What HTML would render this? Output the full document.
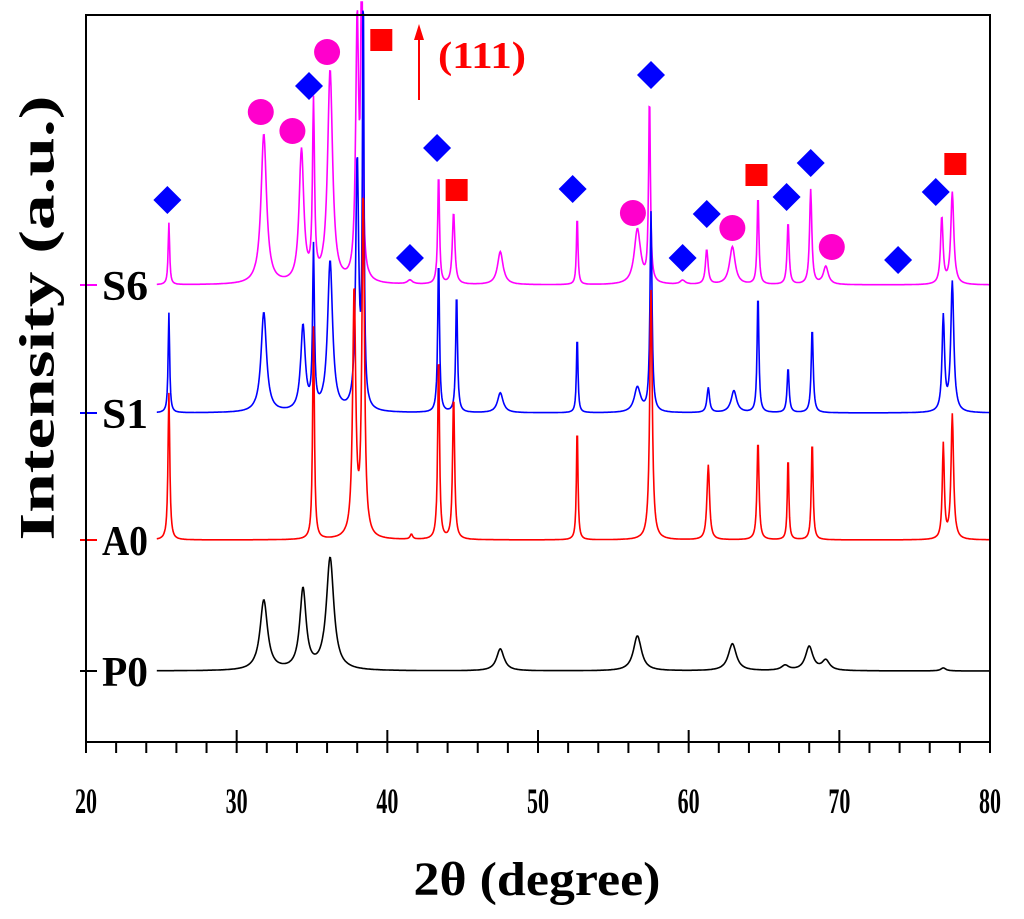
<!DOCTYPE html>
<html><head><meta charset="utf-8"><style>
html,body{margin:0;padding:0;background:#fff;}
svg{display:block;font-family:"Liberation Serif",serif;font-weight:bold;}
</style></head><body>
<svg id="chart" width="1024" height="919" viewBox="0 0 1024 919">
<rect x="0" y="0" width="1024" height="919" fill="#fff"/>
<g id="series"></g>
<g id="markers"></g>
<rect x="86" y="15" width="904" height="727" fill="none" stroke="#000" stroke-width="2"/>
<g id="axes"></g>
<text x="42" y="318" font-size="50" text-anchor="middle" textLength="445" lengthAdjust="spacingAndGlyphs" transform="rotate(-90 42 318)" dominant-baseline="middle">Intensity (a.u.)</text>
<text x="537" y="895" font-size="48" text-anchor="middle" textLength="247" lengthAdjust="spacingAndGlyphs">2θ (degree)</text>
<line x1="419" y1="100" x2="419" y2="30" stroke="#f00" stroke-width="2"/>
<polygon points="419,24 414,40 424,40" fill="#f00"/>
<text x="438" y="68" font-size="38" fill="#f00" textLength="88" lengthAdjust="spacingAndGlyphs">(111)</text>
</svg>
<script>
const xTicks=[20,30,40,50,60,70,80];
const seriesNames=["S6","S1","A0","P0"];
const seriesColors=["#ff00ff","#0000ff","#ff0000","#000000"];
const baselines=[285,413,540,671];
// peaks: position (deg), height (px units), hwhm (deg)
const s6Pos=[25.5,31.8,34.3,35.1,36.2,38.0,38.3,41.5,43.4,44.4,47.5,52.6,56.6,57.4,59.6,61.2,62.9,64.6,66.6,68.1,69.1,76.8,77.5];
const s6H=[62,150,132,175,212,260,420,4,112,72,33,70,55,187,4,35,38,90,63,95,18,67,92];
const s6W=[0.06,0.22,0.18,0.08,0.2,0.12,0.06,0.2,0.07,0.1,0.22,0.06,0.25,0.07,0.2,0.1,0.22,0.07,0.08,0.09,0.2,0.1,0.12];
const s1Pos=[25.5,31.8,34.4,35.1,36.2,38.0,38.4,43.4,44.6,47.5,52.6,56.6,57.5,61.3,63.0,64.6,66.6,68.2,76.9,77.5];
const s1H=[100,100,85,160,150,250,420,155,121,20,78,25,200,25,22,120,45,85,95,130];
const s1W=[0.06,0.22,0.18,0.07,0.2,0.12,0.06,0.07,0.07,0.22,0.06,0.25,0.08,0.1,0.22,0.07,0.08,0.08,0.1,0.12];
const a0Pos=[25.5,35.1,37.8,38.4,41.6,43.4,44.4,52.6,57.5,61.3,64.6,66.6,68.2,76.9,77.5];
const a0H=[147,213,248,345,5,188,145,115,250,75,100,85,100,95,125];
const a0W=[0.07,0.07,0.12,0.1,0.1,0.07,0.08,0.06,0.1,0.1,0.08,0.06,0.07,0.08,0.1];
const p0Pos=[31.8,34.4,36.2,47.5,56.6,62.9,66.4,68.0,69.1,76.9];
const p0H=[70,80,112,22,35,27,5,24,10,3];
const p0W=[0.3,0.25,0.3,0.3,0.32,0.32,0.3,0.3,0.3,0.2];
const markerX=[25.4,31.6,33.7,34.8,36.0,39.6,43.3,44.6,41.5,52.3,56.3,57.5,59.6,61.2,62.9,64.5,66.5,68.1,69.5,73.9,76.4,77.7];
const markerY=[200,112,131,86,52,40,148,190,258,189,213,75,258,214,228,175,197,163,247,260,192,164];
const markerType=["d","c","c","d","c","s","d","s","d","d","c","d","d","d","c","s","d","d","c","d","d","s"];
const NS="http://www.w3.org/2000/svg";
const X0=86,X1=990,Y0=742;
function xs(d){return X0+(d-20)*(X1-X0)/60;}
const sg=document.getElementById('series');
const peakSets=[[s6Pos,s6H,s6W],[s1Pos,s1H,s1W],[a0Pos,a0H,a0W],[p0Pos,p0H,p0W]];
peakSets.forEach((ps,i)=>{
  let pts=[];
  for(let d=24.7;d<=80.0001;d+=0.04){
    let v=0;
    for(let k=0;k<ps[0].length;k++){const t=(d-ps[0][k])/ps[2][k];v+=ps[1][k]/(1+t*t);}
    let y=Math.max(2,baselines[i]-v);
    pts.push(xs(d).toFixed(1)+","+y.toFixed(1));
  }
  const pl=document.createElementNS(NS,'polyline');
  pl.setAttribute('points',pts.join(' '));
  pl.setAttribute('fill','none');pl.setAttribute('stroke',seriesColors[i]);pl.setAttribute('stroke-width','1.6');
  
  
  sg.appendChild(pl);
  const tk=document.createElementNS(NS,'line');
  tk.setAttribute('x1',80);tk.setAttribute('x2',97);tk.setAttribute('y1',baselines[i]);tk.setAttribute('y2',baselines[i]);
  tk.setAttribute('stroke',seriesColors[i]);tk.setAttribute('stroke-width','2');
  
  
  sg.appendChild(tk);
  const bg=document.createElementNS(NS,'rect');
  bg.setAttribute('x',99);bg.setAttribute('y',baselines[i]-18);bg.setAttribute('width',56);bg.setAttribute('height',36);bg.setAttribute('fill','#fff');
  
  
  sg.appendChild(bg);
  const lb=document.createElementNS(NS,'text');
  lb.setAttribute('x',102);lb.setAttribute('y',baselines[i]+15);lb.setAttribute('font-size','42');
  lb.setAttribute('textLength','46');lb.setAttribute('lengthAdjust','spacingAndGlyphs');
  lb.textContent=seriesNames[i];
  
  
  sg.appendChild(lb);
});
const mg=document.getElementById('markers');
markerX.forEach((d,i)=>{
  const x=xs(d),y=markerY[i],t=markerType[i];let el;
  if(t==="d"){el=document.createElementNS(NS,'polygon');el.setAttribute('points',`${x},${y-14} ${x+14},${y} ${x},${y+14} ${x-14},${y}`);el.setAttribute('fill','#0000ff');}
  else if(t==="c"){el=document.createElementNS(NS,'circle');el.setAttribute('cx',x);el.setAttribute('cy',y);el.setAttribute('r',13);el.setAttribute('fill','#ff00cc');}
  else {el=document.createElementNS(NS,'rect');el.setAttribute('x',x-11);el.setAttribute('y',y-11);el.setAttribute('width',22);el.setAttribute('height',22);el.setAttribute('fill','#ff0000');}
  
  
  mg.appendChild(el);
});
const ag=document.getElementById('axes');
for(let d=20;d<=80;d+=2){
  const major=(d%10===0);
  const l=document.createElementNS(NS,'line');
  l.setAttribute('x1',xs(d));l.setAttribute('x2',xs(d));
  l.setAttribute('y1',major?730:742);l.setAttribute('y2',753);
  l.setAttribute('stroke','#000');l.setAttribute('stroke-width','2');
  
  
  ag.appendChild(l);
}
xTicks.forEach(v=>{
  const t=document.createElementNS(NS,'text');
  t.setAttribute('x',xs(v));t.setAttribute('y',813);t.setAttribute('font-size','36');t.setAttribute('text-anchor','middle');
  t.setAttribute('textLength','22');t.setAttribute('lengthAdjust','spacingAndGlyphs');
  t.textContent=v;
  
  
  ag.appendChild(t);
});
</script>
</body></html>
